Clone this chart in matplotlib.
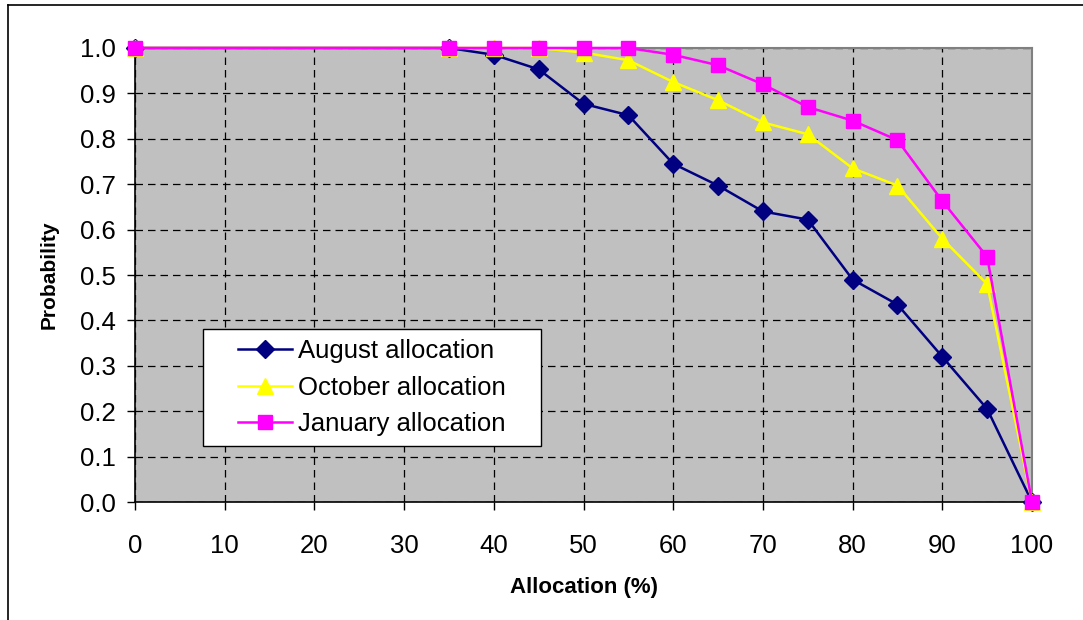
import matplotlib.pyplot as plt
from matplotlib.lines import Line2D
from matplotlib.patches import Rectangle

plt.rcParams['font.family'] = ['Liberation Sans', 'DejaVu Sans']

# Data
allocation = [0, 35, 40, 45, 50, 55, 60, 65, 70, 75, 80, 85, 90, 95, 100]
august = [1.0, 1.0, 0.985, 0.953, 0.877, 0.852, 0.745, 0.697, 0.640, 0.622, 0.490, 0.435, 0.320, 0.205, 0.0]
october = [1.0, 1.0, 1.0, 1.0, 0.990, 0.973, 0.925, 0.885, 0.836, 0.810, 0.735, 0.697, 0.580, 0.480, 0.0]
january = [1.0, 1.0, 1.0, 1.0, 1.0, 1.0, 0.985, 0.962, 0.920, 0.870, 0.840, 0.797, 0.663, 0.540, 0.0]

x_ticks = list(range(0, 101, 10))
y_ticks = [i / 10 for i in range(11)]

fig = plt.figure(figsize=(10.83, 6.2), dpi=100)
ax = fig.add_axes([0.1247, 0.1903, 0.8282, 0.7323])
ax.set_facecolor('#C0C0C0')

ax.plot(allocation, august, color='#000080', lw=1.8, marker='D', ms=9,
        label='August allocation', clip_on=False, zorder=3)
ax.plot(allocation, october, color='#FFFF00', lw=1.8, marker='^', ms=11,
        label='October allocation', clip_on=False, zorder=4)
ax.plot(allocation, january, color='#FF00FF', lw=1.8, marker='s', ms=9.5,
        label='January allocation', clip_on=False, zorder=5)

ax.set_xlim(0, 100)
ax.set_ylim(0, 1.0)
ax.set_xticks(x_ticks)
ax.set_yticks(y_ticks)
ax.set_yticklabels([f'{v:.1f}' for v in y_ticks])
ax.tick_params(axis='both', labelsize=18.5, direction='out', length=6, width=1, color='black')
ax.tick_params(axis='x', pad=17)
ax.tick_params(axis='y', pad=8)

ax.grid(True, color='black', linestyle=(0, (6, 4)), linewidth=0.9)
ax.set_axisbelow(True)

for side in ['left', 'bottom']:
    ax.spines[side].set_color('black')
    ax.spines[side].set_linewidth(1.2)
for side in ['top', 'right']:
    ax.spines[side].set_color('#808080')
    ax.spines[side].set_linewidth(1.5)

ax.set_xlabel('Allocation (%)', fontsize=16, fontweight='bold', labelpad=14)
ax.set_ylabel('Probability', fontsize=15, fontweight='bold', labelpad=15)

# legend box, Excel style with wide side padding
ax.add_patch(Rectangle((0.0758, 0.1233), 0.3768, 0.2577, transform=ax.transAxes,
                       facecolor='white', edgecolor='black', lw=1.0, zorder=6,
                       clip_on=False))
leg = ax.legend(loc='center', bbox_to_anchor=(0.2642, 0.2522), fontsize=18.5,
                frameon=False, handlelength=2.1, handletextpad=0.25,
                labelspacing=0.5, borderaxespad=0, borderpad=0)
leg.set_zorder(7)

# outer chart border (left and top only visible)
fig.add_artist(Line2D([0.0075, 0.0075], [0.0, 0.992], color='black', lw=1.2,
                      transform=fig.transFigure))
fig.add_artist(Line2D([0.0075, 1.0], [0.992, 0.992], color='black', lw=1.2,
                      transform=fig.transFigure))

fig.savefig('out.png', dpi=100)
